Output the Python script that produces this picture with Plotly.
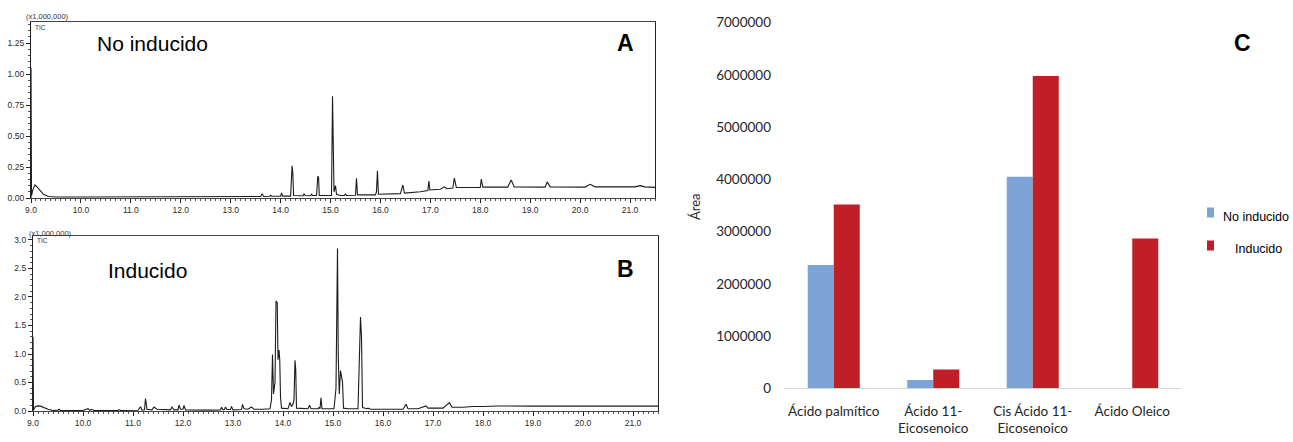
import plotly.graph_objects as go

W, H = 1293, 442

# ---------------- Chromatogram A (No inducido) : retention time (min), intensity (x1,000,000)
a_time = [9.00, 9.00, 9.01, 9.04, 9.08, 9.12, 9.18, 9.25, 9.35, 9.50, 10.0, 11.0, 12.0, 12.5, 13.0, 13.5,
          13.60, 13.63, 13.66, 13.78, 13.80, 13.82, 14.00, 14.02, 14.04, 14.20, 14.23, 14.245, 14.26,
          14.45, 14.47, 14.49, 14.60, 14.62, 14.64, 14.72, 14.745, 14.76, 14.775, 14.95, 15.02, 15.04,
          15.055, 15.07, 15.10, 15.12, 15.20, 15.28, 15.30, 15.32, 15.50, 15.52, 15.54, 15.90, 15.92,
          15.94, 15.96, 16.40, 16.45, 16.48, 16.80, 16.95, 16.97, 16.99, 17.20, 17.28, 17.33, 17.45,
          17.48, 17.52, 17.75, 18.00, 18.02, 18.05, 18.55, 18.62, 18.68, 19.30, 19.34, 19.40, 20.10,
          20.20, 20.30, 21.10, 21.20, 21.30, 21.50]
a_int = [0.00, 1.05, 0.02, 0.07, 0.105, 0.09, 0.06, 0.03, 0.012, 0.008, 0.008, 0.009, 0.009, 0.01, 0.01, 0.01,
         0.012, 0.035, 0.012, 0.014, 0.022, 0.014, 0.015, 0.04, 0.015, 0.015, 0.26, 0.20, 0.02,
         0.018, 0.035, 0.02, 0.018, 0.03, 0.02, 0.02, 0.175, 0.17, 0.02, 0.02, 0.02, 0.82,
         0.28, 0.05, 0.10, 0.03, 0.02, 0.02, 0.035, 0.02, 0.022, 0.16, 0.025, 0.025, 0.05,
         0.22, 0.03, 0.035, 0.105, 0.04, 0.05, 0.06, 0.137, 0.065, 0.07, 0.09, 0.075, 0.08,
         0.16, 0.085, 0.085, 0.085, 0.153, 0.088, 0.088, 0.145, 0.09, 0.088, 0.13, 0.09, 0.088,
         0.11, 0.09, 0.09, 0.10, 0.09, 0.086]

# ---------------- Chromatogram B (Inducido)
b_time = [9.00, 9.00, 9.01, 9.05, 9.10, 9.15, 9.22, 9.30, 9.40, 9.50, 9.52, 9.55, 10.0, 10.08, 10.10,
          10.13, 10.18, 10.22, 10.70, 10.72, 10.75, 11.10, 11.15, 11.18, 11.23, 11.25, 11.28, 11.38,
          11.42, 11.48, 11.60, 11.75, 11.78, 11.82, 11.90, 11.92, 11.95, 12.00, 12.02, 12.05, 12.50,
          12.75, 12.77, 12.80, 12.83, 12.85, 12.88, 12.95, 12.97, 13.00, 13.17, 13.19, 13.22, 13.30,
          13.37, 13.42, 13.60, 13.74, 13.77, 13.79, 13.81, 13.84, 13.86, 13.885, 13.90, 13.92, 13.935,
          13.95, 13.97, 14.10, 14.14, 14.17, 14.20, 14.22, 14.24, 14.255, 14.27, 14.50, 14.53, 14.56,
          14.70, 14.72, 14.74, 14.76, 14.78, 15.02, 15.06, 15.09, 15.105, 15.125, 15.15, 15.175,
          15.19, 15.21, 15.30, 15.50, 15.53, 15.55, 15.57, 15.59, 15.68, 15.70, 15.75, 16.00, 16.20,
          16.40, 16.46, 16.50, 16.70, 16.86, 16.90, 17.20, 17.33, 17.38, 17.60, 17.70, 17.80, 18.00,
          18.30, 19.00, 20.00, 21.00, 21.50]
b_int = [0.00, 1.30, 0.02, 0.08, 0.09, 0.085, 0.06, 0.03, 0.01, 0.015, 0.03, 0.01, 0.01, 0.03, 0.04,
         0.015, 0.025, 0.01, 0.01, 0.025, 0.01, 0.012, 0.075, 0.015, 0.02, 0.22, 0.03, 0.02,
         0.07, 0.03, 0.02, 0.02, 0.07, 0.02, 0.02, 0.105, 0.03, 0.03, 0.10, 0.02, 0.015,
         0.02, 0.065, 0.02, 0.025, 0.07, 0.025, 0.025, 0.08, 0.02, 0.025, 0.117, 0.04, 0.03,
         0.07, 0.03, 0.03, 0.04, 0.20, 0.99, 0.30, 0.50, 1.93, 1.90, 0.90, 1.07, 0.90,
         0.25, 0.05, 0.04, 0.15, 0.08, 0.12, 0.20, 0.89, 0.72, 0.05, 0.04, 0.10, 0.04,
         0.04, 0.06, 0.04, 0.23, 0.04, 0.04, 0.40, 2.85, 0.98, 0.30, 0.71, 0.60,
         0.51, 0.05, 0.04, 0.04, 0.82, 1.65, 1.30, 0.06, 0.04, 0.05, 0.03, 0.025, 0.03,
         0.03, 0.12, 0.04, 0.04, 0.09, 0.05, 0.05, 0.146, 0.065, 0.065, 0.075, 0.08, 0.08,
         0.088, 0.085, 0.085, 0.085, 0.085]

# ---------------- Bar chart C
categories = ["Ácido palmítico", "Ácido 11-<br>Eicosenoico", "Cis Ácido 11-<br>Eicosenoico", "Ácido Oleico"]
no_inducido = [2360000, 160000, 4050000, 0]
inducido = [3520000, 360000, 5980000, 2870000]
bar_ticks = [0, 1000000, 2000000, 3000000, 4000000, 5000000, 6000000, 7000000]

a_yticks = [0, 0.25, 0.5, 0.75, 1.0, 1.25]
b_yticks = [0, 0.5, 1.0, 1.5, 2.0, 2.5, 3.0]
rt_ticks = [9, 10, 11, 12, 13, 14, 15, 16, 17, 18, 19, 20, 21]

BLUE = "#7EA3D6"
RED = "#C11F27"
LINE = "#1c1c1c"

def px_x(p):
    return p / W

def px_y(p):
    return 1 - p / H

fig = go.Figure()
fig.add_trace(go.Scatter(x=a_time, y=a_int, mode="lines", line=dict(color=LINE, width=1.1),
                         xaxis="x", yaxis="y", showlegend=False))
fig.add_trace(go.Scatter(x=b_time, y=b_int, mode="lines", line=dict(color=LINE, width=1.1),
                         xaxis="x2", yaxis="y2", showlegend=False))
fig.add_trace(go.Bar(x=categories, y=no_inducido, marker=dict(color=BLUE, line=dict(width=0)),
                     name="No inducido", xaxis="x3", yaxis="y3", showlegend=False))
fig.add_trace(go.Bar(x=categories, y=inducido, marker=dict(color=RED, line=dict(width=0)),
                     name="Inducido", xaxis="x3", yaxis="y3", showlegend=False))

tickfont_small = dict(family="Liberation Sans, Arial", size=8.5, color="#2a2a2a")

def chrom_x(domain, anchor):
    return dict(domain=domain, anchor=anchor, range=[9, 21.5], tickvals=rt_ticks, tickformat=".1f",
                ticks="outside", ticklen=4, tickcolor="#222", tickfont=tickfont_small, automargin=False,
                showline=True, linecolor="#444", linewidth=1, mirror=True, showgrid=False,
                zeroline=False, minor=dict(ticks="outside", ticklen=2, dtick=0.1, tickcolor="#555"))

def chrom_y(domain, anchor, rng, tv, fmt, minor_dtick):
    return dict(domain=domain, anchor=anchor, range=rng, tickvals=tv, tickformat=fmt,
                ticks="outside", ticklen=4, tickcolor="#222", tickfont=tickfont_small, automargin=False,
                showline=True, linecolor="#222", linewidth=1.3, mirror=True, showgrid=False,
                zeroline=False, minor=dict(ticks="outside", ticklen=2, dtick=minor_dtick, tickcolor="#555"))

fig.update_layout(
    width=W, height=H, margin=dict(l=0, r=0, t=0, b=0, autoexpand=False),
    paper_bgcolor="white", plot_bgcolor="white",
    bargap=0.477, bargroupgap=0, barmode="group",
    xaxis=chrom_x([px_x(31), px_x(655)], "y"),
    yaxis=chrom_y([px_y(198), px_y(22)], "x", [0, 1.42], a_yticks, ".2f", 0.05),
    xaxis2=chrom_x([px_x(33), px_x(658)], "y2"),
    yaxis2=chrom_y([px_y(411), px_y(236)], "x2", [0, 3.07], b_yticks, ".1f", 0.1),
    xaxis3=dict(domain=[px_x(784), px_x(1182)], anchor="y3", showline=True, linecolor="#d9d9d9",
                linewidth=1, ticks="", showgrid=False, ticklabelstandoff=10, automargin=False,
                tickfont=dict(family="Lato", size=13.5, color="#262626")),
    yaxis3=dict(domain=[px_y(388.3), px_y(22.7)], anchor="x3", range=[0, 7000000], tickvals=bar_ticks,
                tickformat="d", showgrid=False, zeroline=False, showline=False, ticks="", automargin=False,
                ticklabelstandoff=12, tickfont=dict(family="Lato", size=13.5, color="#262626")),
)

ann = []
def add_text(text, x, y, size, xanchor="left", bold=False, family="Liberation Sans, Arial", color="black", angle=0):
    ann.append(dict(text=("<b>%s</b>" % text) if bold else text, x=px_x(x), y=px_y(y), xref="paper",
                    yref="paper", xanchor=xanchor, yanchor="middle", showarrow=False, textangle=angle,
                    font=dict(family=family, size=size, color=color)))

add_text("No inducido", 95, 43.5, 21)
add_text("Inducido", 106, 270, 21)
add_text("A", 625, 43, 23, xanchor="center", bold=True)
add_text("B", 625, 268.5, 23, xanchor="center", bold=True)
add_text("C", 1242, 43.5, 23, xanchor="center", bold=True)
add_text("(x1,000,000)", 24, 16.5, 7.5, color="#333")
add_text("TIC", 33, 27, 6.5, color="#333")
add_text("(x1,000,000)", 27, 233, 7.5, color="#333")
add_text("TIC", 35, 240.5, 6.5, color="#333")
add_text("Área", 695, 207, 13, xanchor="center", family="Lato", color="#262626", angle=-90)
add_text("No inducido", 1221, 216.5, 12.5)
add_text("Inducido", 1233, 249, 12.5)
fig.update_layout(annotations=ann)

fig.update_layout(shapes=[
    dict(type="rect", xref="paper", yref="paper", x0=px_x(1207), x1=px_x(1214), y0=px_y(217.5), y1=px_y(207.5),
         fillcolor=BLUE, line=dict(width=0)),
    dict(type="rect", xref="paper", yref="paper", x0=px_x(1207), x1=px_x(1214), y0=px_y(250.5), y1=px_y(240.5),
         fillcolor=RED, line=dict(width=0)),
])

fig.write_html("out.html")
